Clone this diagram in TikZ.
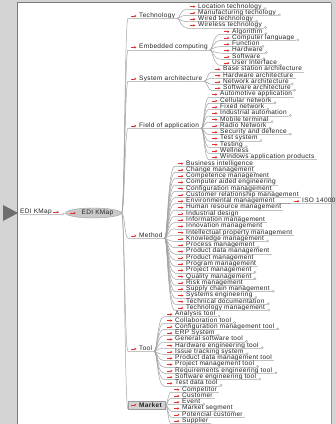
\documentclass[tikz,border=0pt]{standalone}
\usepackage{fontspec}
\newfontfamily\mapfont{Liberation Sans}[LetterSpace=5]
\usetikzlibrary{calc,arrows.meta,shapes.geometric}
\definecolor{bggray}{HTML}{D4D4D4}
\definecolor{edgegray}{HTML}{7A7A7A}
\definecolor{linegray}{HTML}{A3A3A3}
\definecolor{ulgray}{HTML}{C2C2C2}
\definecolor{arrred}{HTML}{E0302C}
\definecolor{txt}{HTML}{222222}
\definecolor{rootgray}{HTML}{C9C9C9}
\definecolor{selgray}{HTML}{D2D2D2}
\tikzset{
  topic/.style={anchor=south west, inner xsep=0pt, inner ysep=0.8pt, text height=4.7pt, text depth=0pt,
    font=\mapfont\fontsize{6.5}{7}\selectfont, text=txt},
  ul/.style={draw=ulgray, line width=0.5pt},
  conn/.style={draw=linegray, line width=0.5pt},
  redarr/.style={draw=arrred, line width=0.6pt, -{Stealth[length=2.2pt,width=2.4pt]}},
  linkdot/.style={draw=linegray, fill=white, line width=0.4pt},
}
\newcommand\topicdeco[1]{%
  \draw[ul] (#1.south west) -- (#1.south east);
  \draw[redarr] ($(#1.south west)+(3,-2.4)$) -- ($(#1.south west)+(8.5,-2.4)$);}
\newcommand\mylink[2]{%
  \draw[conn] (#1) .. controls ($(#1)+(3,0)$) and ($(#1 |- #2.south west)+(3,0)$) .. (#2.south west);}
\newcommand\leafgroup[4]{%
  \foreach \t/\c [count=\i from #3] in {#4} {
    \node[topic] (L\i) at (#2, {9+6.28*\i}) {\hspace*{11pt}\t\hspace*{2pt}};
    \topicdeco{L\i}
    \mylink{#1}{L\i}
    \ifnum\c=1 \draw[linkdot] ($(L\i.south east)+(1.4,-0.4)$) circle[radius=1.1]; \fi
  }}
\begin{document}
\begin{tikzpicture}[x=1pt,y=-1pt]
\useasboundingbox (0,0) rectangle (336,424);
% frame
\fill[bggray] (0,0) rectangle (336,424);
\fill[white] (18,3) rectangle (331,424);
\draw[edgegray, line width=1.3pt] (17.6,424) -- (17.6,2.6) -- (331.4,2.6);
\draw[edgegray!80, line width=1pt] (331.4,2.6) -- (331.4,424);
\fill[edgegray!90!black] (3,205) -- (18,213) -- (3,221) -- cycle;

% root
\node[ellipse, fill=rootgray, draw=rootgray!80!black, line width=0.4pt, minimum width=45pt, minimum height=10pt,
      inner sep=0pt, font=\mapfont\fontsize{6.5}{7}\selectfont, text=txt] (root) at (93.5,213) {\hspace*{8pt}EDI KMap};
\draw[redarr] ($(root.west)+(5,0)$) -- ($(root.west)+(10.5,0)$);

% floating label
\node[topic] (lbl) at (20,214.5) {EDI KMap\hspace*{9pt}};
\draw[ul] (lbl.south west) -- (lbl.south east);
\draw[redarr] ($(lbl.south east)+(-7.5,-2.4)$) -- ($(lbl.south east)+(-2,-2.4)$);
\draw[conn] (lbl.south east) .. controls ($(lbl.south east)+(6,0)$) and ($(root.west)+(-6,0)$) .. (root.west);

% branches
\node[topic] (tech)   at (128,18.4)  {\hspace*{11pt}Technology\hspace*{2pt}};
\node[topic] (emb)    at (128,49.8)  {\hspace*{11pt}Embedded computing\hspace*{2pt}};
\node[topic] (sys)    at (128,81.2)  {\hspace*{11pt}System architecture\hspace*{2pt}};
\node[topic] (field)  at (128,128.3) {\hspace*{11pt}Field of application\hspace*{2pt}};
\node[topic] (method) at (128,238.2) {\hspace*{11pt}Method\hspace*{2pt}};
\node[topic] (tool)   at (128,351.3) {\hspace*{11pt}Tool\hspace*{2pt}};
\foreach \b in {tech,emb,sys,field,method,tool} {\topicdeco{\b}}
\node[topic, anchor=west, fill=selgray, draw=selgray!75!black, line width=0.4pt, minimum height=8pt, inner ysep=0pt]
  (market) at (128,404.8) {\hspace*{11pt}\bfseries Market\hspace*{3pt}};
\draw[redarr] ($(market.west)+(3,0)$) -- ($(market.west)+(8.5,0)$);
\foreach \b in {tech,emb,sys,field,method,tool,market} {\mylink{root.east}{\b}}

% leaves
\leafgroup{tech.south east}{187}{0}{Location technology/1, Manufacturing techology/1, Wired technology/1, Wireless technology/1}
\leafgroup{emb.south east}{221}{4}{Algorithm/1, Computer language/1, Function/1, Hardware/1, Software/1, User Interface/1}
\leafgroup{sys.south east}{212}{10}{Base station architecture/0, Hardware architecture/0, Network architecture/1, Software architecture/1}
\leafgroup{field.south east}{209}{14}{Automotive application/0, Cellular network/1, Fixed network/1, Industrial automation/1, Mobile terminal/1, Radio Network/1, Security and defence/1, Test system/1, Testing/1, Wellness/0, Windows application products/0}
\leafgroup{method.south east}{175}{25}{Business intelligence/0, Change management/0, Competence management/0, Computer aided engineering/0, Configuration management/0, Customer relationship management/0, Environmental management/0, Human resource management/0, Industrial design/0, Information management/0, Innovation management/0, Intellectual property management/0, Knowledge management/1, Process management/1, Product data management/0, Product management/0, Program management/0, Project management/1, Quality management/1, Risk management/0, Supply chain management/1, Systems engineering/1, Technical documentation/1, Technology management/1}
\leafgroup{tool.south east}{164}{49}{Analysis tool/1, Collaboration tool/1, Configuration management tool/1, ERP System/1, General software tool/1, Hardware engineering tool/1, Issue tracking system/1, Product data management tool/0, Project management tool/1, Requirements engineering tool/1, Software engineering tool/1, Test data tool/1}
\leafgroup{market.east}{171}{61}{Competitor/0, Customer/0, Event/1, Market segment/0, Potencial customer/0, Supplier/0}

% ISO 14000
\node[topic] (iso) at (291,{9+6.28*31}) {\hspace*{11pt}ISO 14000\hspace*{2pt}};
\topicdeco{iso}
\mylink{L31.south east}{iso}
\end{tikzpicture}
\end{document}
